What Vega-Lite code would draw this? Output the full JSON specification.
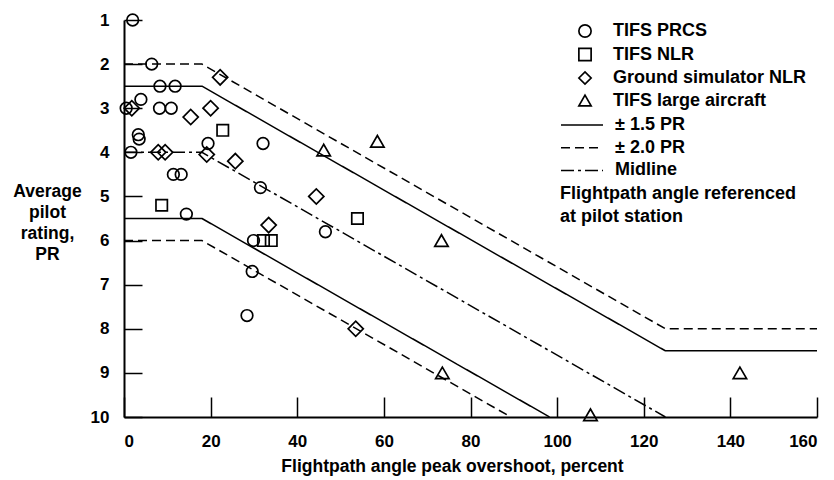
{
  "$schema": "https://vega.github.io/schema/vega-lite/v6.json",
  "width": 693,
  "height": 397,
  "autosize": {"type": "none"},
  "padding": {"left": 124, "top": 20, "right": 17, "bottom": 63},
  "background": "white",
  "config": {
    "font": "Liberation Sans",
    "view": {"stroke": null},
    "axis": {
      "domainColor": "black",
      "domainWidth": 2,
      "tickColor": "black",
      "tickWidth": 1.5,
      "grid": false,
      "labelColor": "black",
      "labelFont": "Liberation Sans",
      "labelFontWeight": "bold",
      "labelFontSize": 17,
      "titleColor": "black",
      "titleFont": "Liberation Sans",
      "titleFontWeight": "bold",
      "titleFontSize": 17.5
    },
    "legend": {
      "labelFont": "Liberation Sans",
      "labelFontWeight": "bold",
      "labelFontSize": 18,
      "labelColor": "black",
      "labelLimit": 0,
      "titleLimit": 0,
      "titleFont": "Liberation Sans",
      "titleFontWeight": "bold",
      "titleFontSize": 18,
      "titleColor": "black",
      "padding": 0
    }
  },
  "datasets": {
    "points": [
      {"x": 2, "pr": 1.0, "series": "TIFS PRCS"},
      {"x": 6.4, "pr": 2.0, "series": "TIFS PRCS"},
      {"x": 8.3, "pr": 2.5, "series": "TIFS PRCS"},
      {"x": 11.8, "pr": 2.5, "series": "TIFS PRCS"},
      {"x": 3.9, "pr": 2.8, "series": "TIFS PRCS"},
      {"x": 0.5, "pr": 3.0, "series": "TIFS PRCS"},
      {"x": 8.2, "pr": 3.0, "series": "TIFS PRCS"},
      {"x": 10.9, "pr": 3.0, "series": "TIFS PRCS"},
      {"x": 3.3, "pr": 3.6, "series": "TIFS PRCS"},
      {"x": 3.5, "pr": 3.7, "series": "TIFS PRCS"},
      {"x": 1.6, "pr": 4.0, "series": "TIFS PRCS"},
      {"x": 11.4, "pr": 4.5, "series": "TIFS PRCS"},
      {"x": 13.2, "pr": 4.5, "series": "TIFS PRCS"},
      {"x": 19.4, "pr": 3.8, "series": "TIFS PRCS"},
      {"x": 32.1, "pr": 3.8, "series": "TIFS PRCS"},
      {"x": 31.5, "pr": 4.8, "series": "TIFS PRCS"},
      {"x": 14.4, "pr": 5.4, "series": "TIFS PRCS"},
      {"x": 29.9, "pr": 6.0, "series": "TIFS PRCS"},
      {"x": 29.6, "pr": 6.7, "series": "TIFS PRCS"},
      {"x": 28.4, "pr": 7.7, "series": "TIFS PRCS"},
      {"x": 46.5, "pr": 5.8, "series": "TIFS PRCS"},
      {"x": 8.7, "pr": 5.2, "series": "TIFS NLR"},
      {"x": 22.8, "pr": 3.5, "series": "TIFS NLR"},
      {"x": 32.2, "pr": 6.0, "series": "TIFS NLR"},
      {"x": 34.0, "pr": 6.0, "series": "TIFS NLR"},
      {"x": 53.9, "pr": 5.5, "series": "TIFS NLR"},
      {"x": 22.2, "pr": 2.3, "series": "Ground simulator NLR"},
      {"x": 1.8, "pr": 3.0, "series": "Ground simulator NLR"},
      {"x": 20.0, "pr": 3.0, "series": "Ground simulator NLR"},
      {"x": 15.4, "pr": 3.2, "series": "Ground simulator NLR"},
      {"x": 7.9, "pr": 4.0, "series": "Ground simulator NLR"},
      {"x": 9.5, "pr": 4.0, "series": "Ground simulator NLR"},
      {"x": 19.1, "pr": 4.05, "series": "Ground simulator NLR"},
      {"x": 25.7, "pr": 4.2, "series": "Ground simulator NLR"},
      {"x": 33.4, "pr": 5.65, "series": "Ground simulator NLR"},
      {"x": 44.4, "pr": 5.0, "series": "Ground simulator NLR"},
      {"x": 53.5, "pr": 8.0, "series": "Ground simulator NLR"},
      {"x": 46.1, "pr": 3.95, "series": "TIFS large aircraft"},
      {"x": 58.5, "pr": 3.75, "series": "TIFS large aircraft"},
      {"x": 73.3, "pr": 6.0, "series": "TIFS large aircraft"},
      {"x": 73.5, "pr": 9.0, "series": "TIFS large aircraft"},
      {"x": 107.7, "pr": 9.95, "series": "TIFS large aircraft"},
      {"x": 142.2, "pr": 9.0, "series": "TIFS large aircraft"}
    ],
    "lines": [
      {"x": 0, "pr": 2.0, "line": "upper2", "type": "± 2.0 PR"},
      {"x": 18, "pr": 2.0, "line": "upper2", "type": "± 2.0 PR"},
      {"x": 125, "pr": 8.0, "line": "upper2", "type": "± 2.0 PR"},
      {"x": 160, "pr": 8.0, "line": "upper2", "type": "± 2.0 PR"},
      {"x": 0, "pr": 2.5, "line": "upper15", "type": "± 1.5 PR"},
      {"x": 18, "pr": 2.5, "line": "upper15", "type": "± 1.5 PR"},
      {"x": 125, "pr": 8.5, "line": "upper15", "type": "± 1.5 PR"},
      {"x": 160, "pr": 8.5, "line": "upper15", "type": "± 1.5 PR"},
      {"x": 0, "pr": 4.0, "line": "mid", "type": "Midline"},
      {"x": 18, "pr": 4.0, "line": "mid", "type": "Midline"},
      {"x": 125, "pr": 10.0, "line": "mid", "type": "Midline"},
      {"x": 0, "pr": 5.5, "line": "lower15", "type": "± 1.5 PR"},
      {"x": 18, "pr": 5.5, "line": "lower15", "type": "± 1.5 PR"},
      {"x": 98.25, "pr": 10.0, "line": "lower15", "type": "± 1.5 PR"},
      {"x": 0, "pr": 6.0, "line": "lower2", "type": "± 2.0 PR"},
      {"x": 18, "pr": 6.0, "line": "lower2", "type": "± 2.0 PR"},
      {"x": 89.3, "pr": 10.0, "line": "lower2", "type": "± 2.0 PR"}
    ]
  },
  "encoding": {
    "x": {
      "field": "x", "type": "quantitative",
      "scale": {"domain": [0, 160], "nice": false},
      "axis": {
        "values": [0, 20, 40, 60, 80, 100, 120, 140, 160],
        "tickSize": -20,
        "labelPadding": 36,
        "title": "Flightpath angle peak overshoot, percent",
        "titleX": 328,
        "titleY": 54,
        "titleAlign": "center",
        "titleBaseline": "alphabetic",
        "titleAnchor": null
      }
    },
    "y": {
      "field": "pr", "type": "quantitative",
      "scale": {"domain": [1, 10], "reverse": true, "nice": false, "zero": false},
      "axis": {
        "values": [1, 2, 3, 4, 5, 6, 7, 8, 9, 10],
        "tickSize": -18,
        "labelPadding": 33,
        "title": ["Average", "pilot", "rating,", "PR"],
        "titleAngle": 0,
        "titleAlign": "center",
        "titleBaseline": "alphabetic",
        "titleX": -77,
        "titleY": 176,
        "titleLineHeight": 21
      }
    }
  },
  "layer": [
    {
      "data": {"name": "lines"},
      "mark": {"type": "line", "color": "black", "strokeWidth": 1.5},
      "encoding": {
        "detail": {"field": "line"},
        "order": {"field": "x"},
        "strokeDash": {
          "field": "type",
          "type": "nominal",
          "scale": {"domain": ["± 1.5 PR", "± 2.0 PR", "Midline"], "range": [[1, 0], [9, 5], [13, 4, 3, 4]]},
          "legend": {
            "orient": "none",
            "legendX": 436,
            "legendY": 96,
            "symbolType": "stroke",
            "symbolSize": 1764,
            "symbolStrokeWidth": 1.5,
            "symbolStrokeColor": "black",
            "clipHeight": 18,
            "labelOffset": 11,
            "rowPadding": 4.7,
            "titleOrient": "bottom",
            "titleAnchor": "start",
            "titleAlign": "left",
            "titleLineHeight": 23,
            "titlePadding": 6,
            "title": ["Flightpath angle referenced", "\u00a0\u00a0at pilot station"]
          }
        }
      }
    },
    {
      "data": {"name": "points"},
      "transform": [{"filter": "datum.series === 'TIFS PRCS'"}],
      "mark": {"type": "point", "filled": false, "color": "black", "strokeWidth": 1.7, "opacity": 1, "size": 135},
      "encoding": {"shape": {"field": "series", "type": "nominal"}}
    },
    {
      "data": {"name": "points"},
      "transform": [{"filter": "datum.series === 'TIFS NLR'"}],
      "mark": {"type": "point", "filled": false, "color": "black", "strokeWidth": 1.7, "opacity": 1, "size": 130},
      "encoding": {"shape": {"field": "series", "type": "nominal"}}
    },
    {
      "data": {"name": "points"},
      "transform": [{"filter": "datum.series === 'Ground simulator NLR'"}],
      "mark": {"type": "point", "filled": false, "color": "black", "strokeWidth": 1.7, "opacity": 1, "size": 230},
      "encoding": {"shape": {"field": "series", "type": "nominal"}}
    },
    {
      "data": {"name": "points"},
      "transform": [{"filter": "datum.series === 'TIFS large aircraft'"}],
      "mark": {"type": "point", "filled": false, "color": "black", "strokeWidth": 1.7, "opacity": 1, "size": 180},
      "encoding": {
        "shape": {
          "field": "series", "type": "nominal",
          "scale": {"domain": ["TIFS PRCS", "TIFS NLR", "Ground simulator NLR", "TIFS large aircraft"], "range": ["circle", "square", "diamond", "triangle-up"]},
          "legend": {
            "title": null,
            "orient": "none",
            "legendX": 452,
            "legendY": 2,
            "symbolSize": 150,
            "symbolStrokeWidth": 1.7,
            "symbolStrokeColor": "black",
            "symbolFillColor": "transparent",
            "labelOffset": 19,
            "rowPadding": 3.5
          }
        }
      }
    }
  ]
}
